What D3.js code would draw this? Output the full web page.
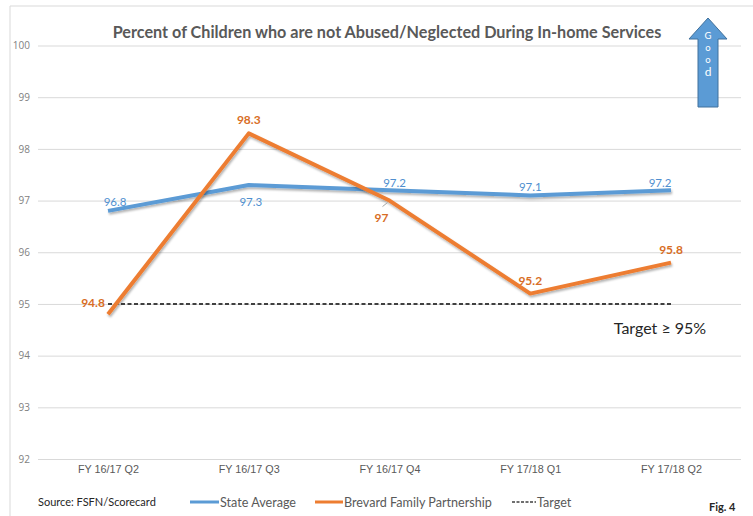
<!DOCTYPE html>
<html>
<head>
<meta charset="utf-8">
<script src="https://cdn.jsdelivr.net/npm/d3@7"></script>
<style>
  html, body { margin: 0; padding: 0; background: #fff; }
  svg { display: block; font-family: Lato, "Open Sans", "Liberation Sans", sans-serif; }
</style>
</head>
<body>
<svg id="chart" width="753" height="516"></svg>
<script>
// Quarterly results
const quarters = ["FY 16/17 Q2", "FY 16/17 Q3", "FY 16/17 Q4", "FY 17/18 Q1", "FY 17/18 Q2"];
const stateAverage = [96.8, 97.3, 97.2, 97.1, 97.2];
const brevard = [94.8, 98.3, 97.0, 95.2, 95.8];
const target = [95, 95, 95, 95, 95];
const yTicks = [92, 93, 94, 95, 96, 97, 98, 99, 100];

// Label placement for each point: [dx, dy] from the point
const stateLabelPos = [[7, -9], [2, 16], [5, -8], [0, -9], [-11, -8]];
const brevardLabelPos = [[-15, -12], [0, -14], [-8, 17], [0, -13], [0, -13]];

const svg = d3.select("#chart");
const blue = "#5b9bd5", orange = "#ed7d31";

// Frame edges
svg.append("line").attr("x1", 10).attr("x2", 753).attr("y1", 6).attr("y2", 6)
  .attr("stroke", "#d9d9d9").attr("stroke-width", 1);
svg.append("line").attr("x1", 10).attr("x2", 10).attr("y1", 6).attr("y2", 516)
  .attr("stroke", "#d9d9d9").attr("stroke-width", 1);

const x = d3.scalePoint().domain(quarters).range([108, 671]);
const y = d3.scaleLinear().domain([92, 100]).range([459, 45.5]);

// Gridlines and value axis
const yAxis = d3.axisLeft(y).tickValues(yTicks).tickSize(-(741 - 38)).tickPadding(8);
const gy = svg.append("g").attr("transform", "translate(38,0)").call(yAxis);
gy.select(".domain").remove();
gy.selectAll(".tick line").attr("stroke", "#d9d9d9").attr("stroke-width", 1);
gy.selectAll(".tick text").attr("fill", "#7f7f7f").attr("font-size", 10)
  .attr("font-family", "'Open Sans', sans-serif");

// Category axis labels
const xAxis = d3.axisBottom(x).tickSize(0).tickPadding(0);
const gx = svg.append("g").attr("transform", "translate(0,465)").call(xAxis);
gx.select(".domain").remove();
gx.selectAll(".tick text").attr("fill", "#595959").attr("font-size", 10.8);

// Title
svg.append("text").attr("x", 387).attr("y", 38).attr("text-anchor", "middle")
  .attr("font-size", 16.2).attr("font-weight", "bold").attr("fill", "#595959")
  .text("Percent of Children who are not Abused/Neglected During In-home Services");

// Target line
const line = d3.line().x((d, i) => x(quarters[i])).y(d => y(d));
svg.append("path").datum(target).attr("d", line).attr("fill", "none")
  .attr("stroke", "#404040").attr("stroke-width", 2).attr("stroke-dasharray", "4,2.5");

// Soft shadow under the series lines
const defs = svg.append("defs");
const f = defs.append("filter").attr("id", "shadow").attr("x", "-10%").attr("y", "-10%")
  .attr("width", "120%").attr("height", "130%");
f.append("feDropShadow").attr("dx", 1).attr("dy", 2).attr("stdDeviation", 1.2)
  .attr("flood-color", "#000").attr("flood-opacity", 0.3);

svg.append("path").datum(stateAverage).attr("d", line).attr("fill", "none")
  .attr("stroke", blue).attr("stroke-width", 4).attr("stroke-linejoin", "round")
  .attr("filter", "url(#shadow)");
svg.append("path").datum(brevard).attr("d", line).attr("fill", "none")
  .attr("stroke", orange).attr("stroke-width", 4).attr("stroke-linejoin", "round")
  .attr("filter", "url(#shadow)");

// Small leader line at the Q4 label
svg.append("line").attr("x1", x(quarters[2]) - 7).attr("y1", y(brevard[2]) + 6)
  .attr("x2", x(quarters[2]) - 2).attr("y2", y(brevard[2]) + 2)
  .attr("stroke", "#a6a6a6").attr("stroke-width", 1);

// Data labels
svg.append("g").selectAll("text").data(stateAverage).join("text")
  .attr("x", (d, i) => x(quarters[i]) + stateLabelPos[i][0])
  .attr("y", (d, i) => y(d) + stateLabelPos[i][1])
  .attr("text-anchor", "middle").attr("dominant-baseline", "central")
  .attr("font-size", 11.5).attr("fill", "#4f8fcf")
  .text(d => d3.format(".1f")(d));

svg.append("g").selectAll("text").data(brevard).join("text")
  .attr("x", (d, i) => x(quarters[i]) + brevardLabelPos[i][0])
  .attr("y", (d, i) => y(d) + brevardLabelPos[i][1])
  .attr("text-anchor", "middle").attr("dominant-baseline", "central")
  .attr("font-size", 12).attr("font-weight", "bold").attr("fill", "#d86d25")
  .text(d => Number.isInteger(d) ? String(d) : d3.format(".1f")(d));

// Target annotation
svg.append("text").attr("x", 660).attr("y", 327).attr("text-anchor", "middle")
  .attr("dominant-baseline", "central").attr("font-size", 16).attr("fill", "#262626")
  .text("Target \u2265 95%");

// "Good" arrow
const arrow = d3.path();
arrow.moveTo(708, 18); arrow.lineTo(727, 39); arrow.lineTo(718, 39);
arrow.lineTo(718, 107); arrow.lineTo(698, 107); arrow.lineTo(698, 39);
arrow.lineTo(689, 39); arrow.closePath();
svg.append("path").attr("d", arrow.toString()).attr("fill", blue)
  .attr("stroke", "#41719c").attr("stroke-width", 1);
svg.append("g").selectAll("text").data(["G", "o", "o", "d"]).join("text")
  .attr("x", 708).attr("y", (d, i) => 35 + i * 12).attr("text-anchor", "middle")
  .attr("dominant-baseline", "central").attr("font-size", (d, i) => i === 3 ? 12 : 9.5)
  .attr("fill", "#fff")
  .text(d => d);

// Legend
const lg = svg.append("g");
lg.append("text").attr("x", 38).attr("y", 501).attr("dominant-baseline", "central")
  .attr("font-size", 11).attr("fill", "#262626").text("Source: FSFN/Scorecard");
const legendItems = [
  { label: "State Average", color: blue, x: 190, dash: null, w: 29 },
  { label: "Brevard Family Partnership", color: orange, x: 315, dash: null, w: 28 },
  { label: "Target", color: "#404040", x: 512, dash: "3,1.5", w: 24 }
];
legendItems.forEach(it => {
  lg.append("line").attr("x1", it.x).attr("x2", it.x + it.w).attr("y1", 502).attr("y2", 502)
    .attr("stroke", it.color).attr("stroke-width", it.dash ? 1.5 : 3)
    .attr("stroke-dasharray", it.dash);
  lg.append("text").attr("x", it.x + it.w + 1).attr("y", 502).attr("dominant-baseline", "central")
    .attr("font-size", 12.6).attr("fill", "#595959").text(it.label);
});
lg.append("text").attr("x", 709).attr("y", 506).attr("dominant-baseline", "central")
  .attr("font-size", 11).attr("font-weight", "bold").attr("fill", "#262626").text("Fig. 4");
</script>
</body>
</html>
